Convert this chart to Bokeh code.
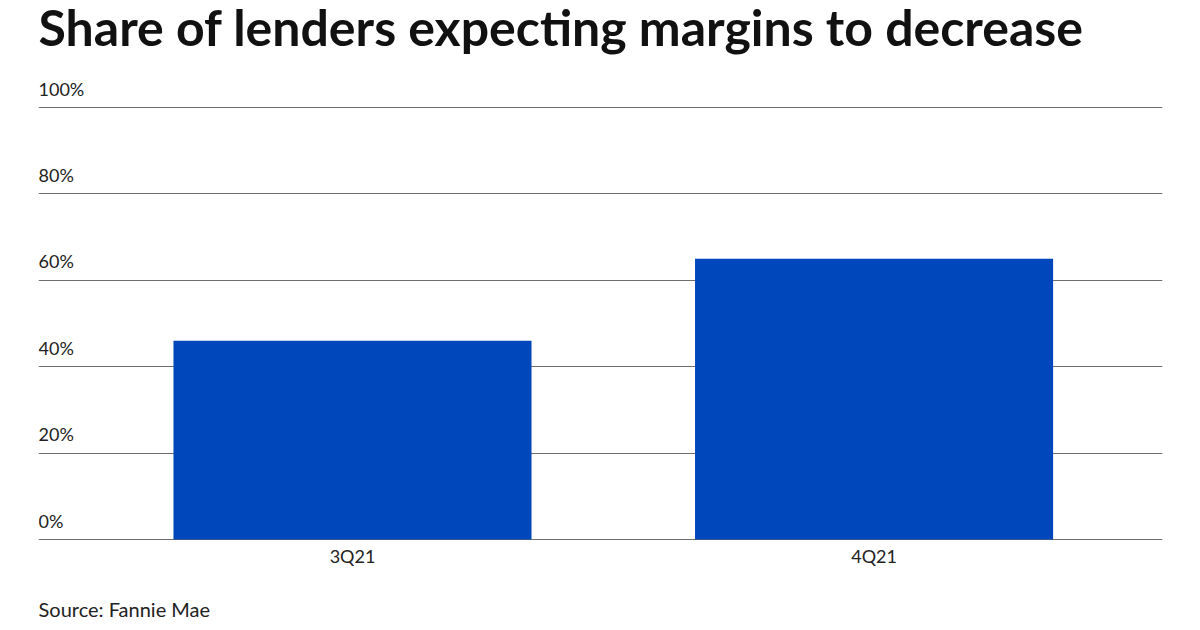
from bokeh.plotting import figure
from bokeh.models import Range1d, FixedTicker, ColumnDataSource, Label
from bokeh.core.properties import value
from bokeh.embed import file_html
from bokeh.resources import INLINE

categories = ["3Q21", "4Q21"]
shares = [46, 65]
y_ticks = [0, 20, 40, 60, 80, 100]
y_labels = ["0%", "20%", "40%", "60%", "80%", "100%"]
title_text = "Share of lenders expecting margins to decrease"
source_text = "Source: Fannie Mae"

FONT = "Lato"
W, H = 1200, 630
X0, X1 = -0.102, 2.053
Y_BOT, Y_TOP = -21.06, 124.77

xs = [i + 0.5 for i in range(len(categories))]

p = figure(width=W, height=H, output_backend="svg", toolbar_location=None,
           title_location=None,
           x_range=Range1d(X0, X1), y_range=Range1d(Y_BOT, Y_TOP),
           min_border_left=38, min_border_right=38, min_border_top=0,
           min_border_bottom=0)
p.outline_line_color = None
p.background_fill_color = "white"
p.border_fill_color = "white"
p.xaxis.visible = False
p.yaxis.visible = False
p.xgrid.grid_line_color = None

p.vbar(x=xs, bottom=0, top=shares, width=0.6865, color="#0047BB",
       line_color=None)

# y grid
p.ygrid.ticker = FixedTicker(ticks=y_ticks)
p.ygrid.grid_line_color = "#6e6e6e"
p.ygrid.grid_line_width = 1

# y tick labels placed above gridlines
ysrc = ColumnDataSource(dict(x=[X0] * len(y_ticks), y=y_ticks, t=y_labels))
p.text(x="x", y="y", text="t", source=ysrc, text_font=value(FONT),
       text_font_size="18px", text_color="#222222", text_align="left",
       text_baseline="bottom", y_offset=-8)

# category labels under the baseline
xsrc = ColumnDataSource(dict(x=xs, y=[0] * len(xs), t=categories))
p.text(x="x", y="y", text="t", source=xsrc, text_font=value(FONT),
       text_font_size="18px", text_color="#222222", text_align="center",
       text_baseline="middle", y_offset=16)

# headline
p.add_layout(Label(x=X0, y=118.75, text=title_text, text_font=FONT,
                   text_font_style="bold", text_font_size="50px",
                   text_color="#111111", text_align="left",
                   text_baseline="alphabetic"))

# source note
ssrc = ColumnDataSource(dict(x=[X0], y=[0], t=[source_text]))
p.text(x="x", y="y", text="t", source=ssrc, text_font=value(FONT),
       text_font_size="20px", text_color="#222222", text_align="left",
       text_baseline="middle", y_offset=69)

open("out.html", "w").write(file_html(p, INLINE))
